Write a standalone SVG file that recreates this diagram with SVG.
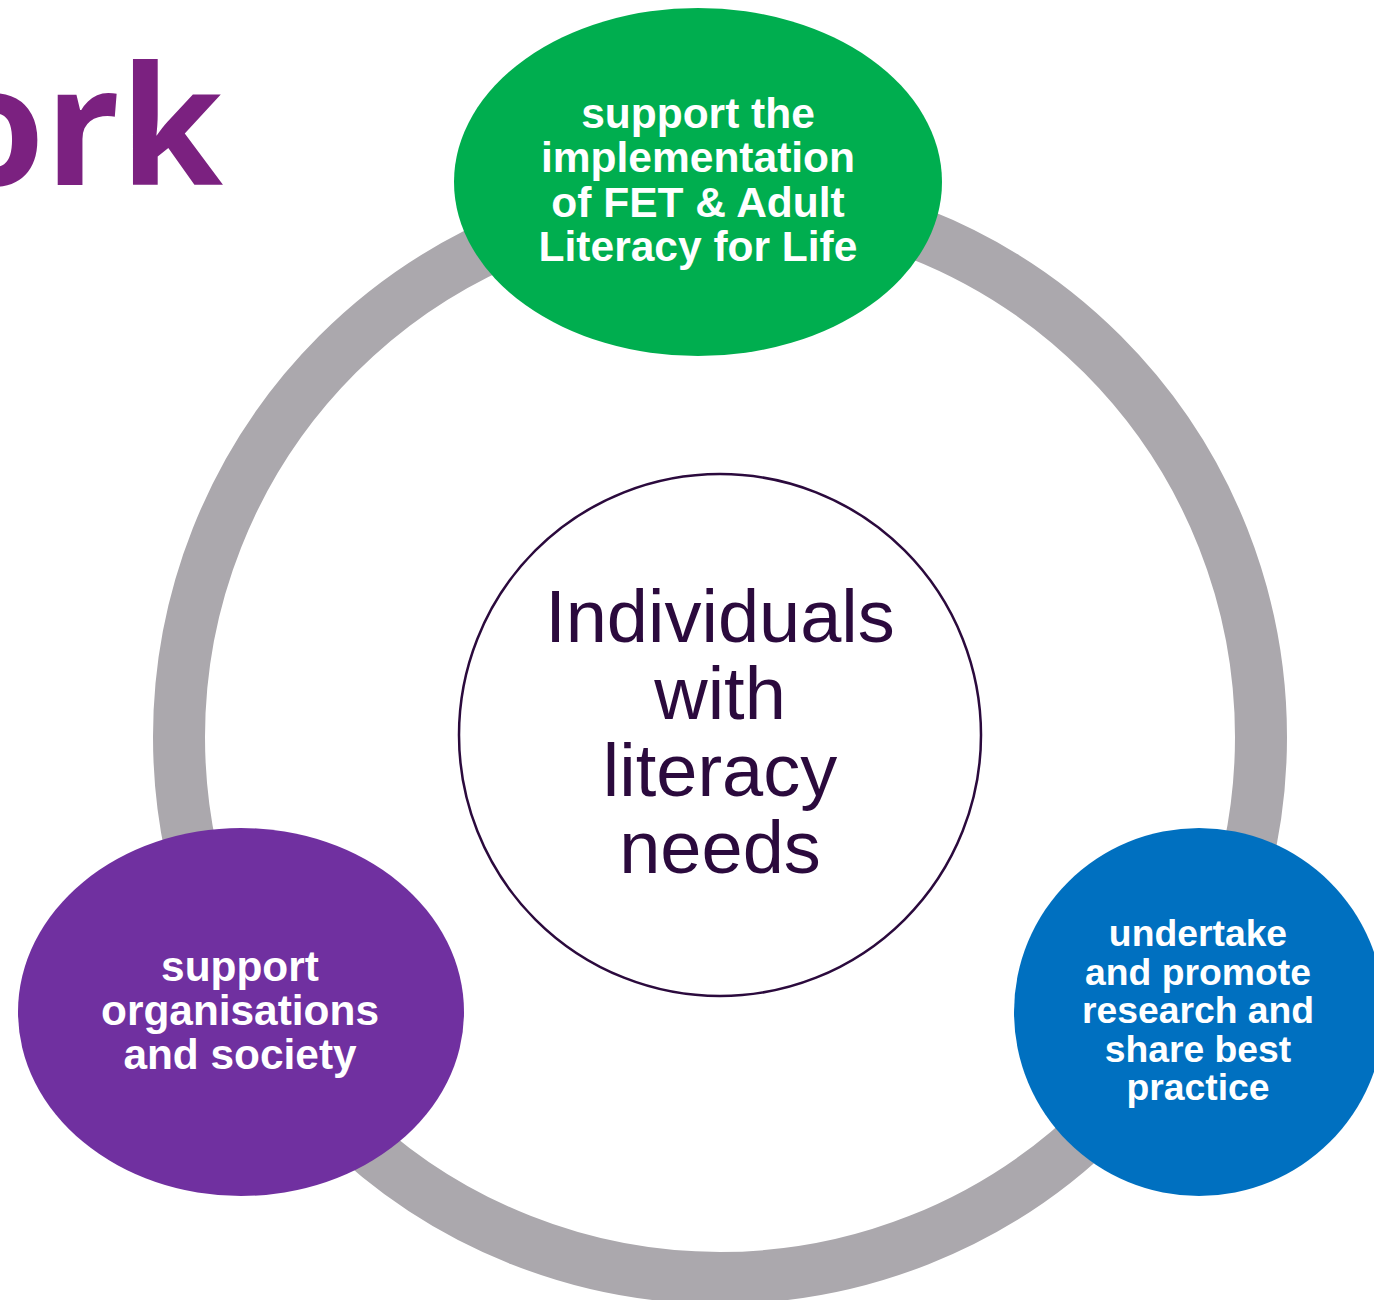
<svg xmlns="http://www.w3.org/2000/svg" width="1374" height="1300" viewBox="0 0 1374 1300">
<style>
.lbl{font-family:"Liberation Sans",Arial,sans-serif;font-weight:bold;fill:#ffffff;text-anchor:middle}
.ctr{font-family:"Liberation Sans",Arial,sans-serif;fill:#2B0A3D;text-anchor:middle;font-size:74px}
</style>
<rect width="1374" height="1300" fill="#ffffff"/>
<text x="223" y="185" font-family="'Open Sans',sans-serif" font-weight="700" font-size="166" fill="#7B2180" text-anchor="end">ork</text>
<g id="connectors">
<circle cx="720" cy="737" r="541" fill="none" stroke="#ABA8AD" stroke-width="52"/>
</g>
<g id="center">
<circle cx="720" cy="735" r="261" fill="#ffffff" stroke="#2B0A3D" stroke-width="2.5"/>
<text class="ctr"><tspan x="720" y="642">Individuals</tspan><tspan x="720" y="719">with</tspan><tspan x="720" y="796">literacy</tspan><tspan x="720" y="873">needs</tspan></text>
</g>
<g id="node-top">
<ellipse cx="698" cy="182" rx="244" ry="174" fill="#00AE4F"/>
<text class="lbl" font-size="42.5"><tspan x="698" y="128">support the</tspan><tspan x="698" y="172">implementation</tspan><tspan x="698" y="217">of FET &amp; Adult</tspan><tspan x="698" y="261">Literacy for Life</tspan></text>
</g>
<g id="node-left">
<ellipse cx="241" cy="1012" rx="223" ry="184" fill="#7030A0"/>
<text class="lbl" font-size="42.4"><tspan x="240" y="981">support</tspan><tspan x="240" y="1025">organisations</tspan><tspan x="240" y="1069">and society</tspan></text>
</g>
<g id="node-right">
<ellipse cx="1199" cy="1012" rx="185" ry="184" fill="#0070C0"/>
<text class="lbl" font-size="37.3"><tspan x="1198" y="946">undertake</tspan><tspan x="1198" y="985">and promote</tspan><tspan x="1198" y="1023">research and</tspan><tspan x="1198" y="1062">share best</tspan><tspan x="1198" y="1100">practice</tspan></text>
</g>
</svg>
